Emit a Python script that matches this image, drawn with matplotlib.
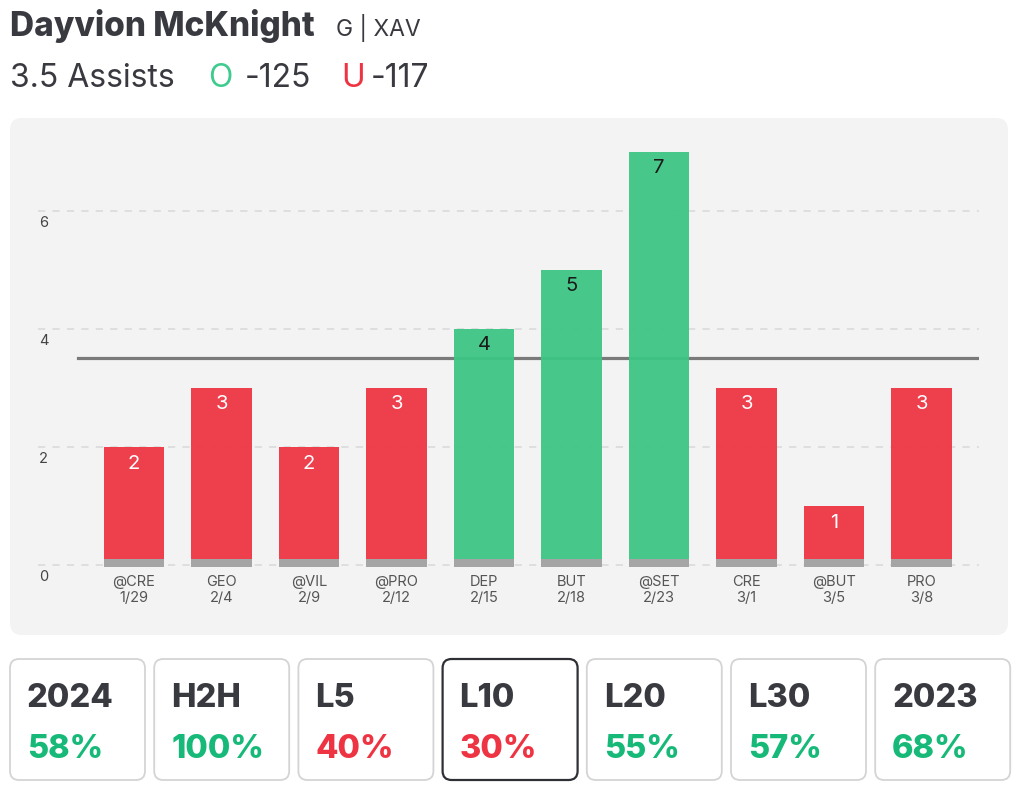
import matplotlib.pyplot as plt
from matplotlib.patches import FancyBboxPatch
import matplotlib.transforms as mtransforms

plt.rcParams['font.family'] = ['Inter', 'DejaVu Sans']

# data
opponents = ['@CRE', 'GEO', '@VIL', '@PRO', 'DEP', 'BUT', '@SET', 'CRE', '@BUT', 'PRO']
dates = ['1/29', '2/4', '2/9', '2/12', '2/15', '2/18', '2/23', '3/1', '3/5', '3/8']
assists = [2, 3, 2, 3, 4, 5, 7, 3, 1, 3]
line_value = 3.5
y_ticks = [0, 2, 4, 6]

stat_labels = ['2024', 'H2H', 'L5', 'L10', 'L20', 'L30', '2023']
stat_values = [58, 100, 40, 30, 55, 57, 68]

GREEN = '#3cc684'
RED = '#ee3442'
GREEN_TXT = '#17b978'
DARK = '#393a40'

fig = plt.figure(figsize=(10.24, 8.02), dpi=100)

# background axes in pixel coordinates
bg = fig.add_axes([0, 0, 1, 1])
bg.set_xlim(0, 1024)
bg.set_ylim(802, 0)
bg.axis('off')

# header
bg.text(10, 36, 'Dayvion McKnight', fontsize=24, fontweight='heavy', color=DARK, va='baseline')
bg.text(336, 36, 'G | XAV', fontsize=16.5, color=DARK, va='baseline')
bg.text(10, 87, '3.5 Assists', fontsize=23, color=DARK, va='baseline')
bg.text(208, 87, 'O', fontsize=23, color='#3dcb8e', va='baseline')
bg.text(245, 87, '-125', fontsize=23, color=DARK, va='baseline')
bg.text(341, 87, 'U', fontsize=23, color=RED, va='baseline')
bg.text(371, 87, '-117', fontsize=23, color=DARK, va='baseline')

# chart panel
bg.add_patch(FancyBboxPatch((10, 118), 998, 517, boxstyle='round,pad=0,rounding_size=12',
                            facecolor='#f3f3f3', edgecolor='none'))

# stat boxes
for i, (lab, val) in enumerate(zip(stat_labels, stat_values)):
    x0 = 10 + i * 144.2
    sel = lab == 'L10'
    bg.add_patch(FancyBboxPatch((x0, 659), 135, 121, boxstyle='round,pad=0,rounding_size=9',
                                facecolor='white', edgecolor='#2f3035' if sel else '#d4d4d4',
                                linewidth=1.6 if sel else 1.3))
    bg.text(x0 + 17, 707, lab, fontsize=23.5, fontweight='heavy', color=DARK, va='baseline')
    bg.text(x0 + 17, 758, f'{val}%', fontsize=23.5, fontweight='heavy',
            color=GREEN_TXT if val > 50 else RED, va='baseline')

# bar chart
ax = fig.add_axes([38 / 1024, 1 - 630 / 802, 941 / 1024, 500 / 802])
ax.patch.set_alpha(0)
xs = list(range(len(assists)))
ax.set_xlim(-1.097, 9.657)
ax.set_ylim(-1.1, 7.37)
for s in ax.spines.values():
    s.set_visible(False)
ax.set_xticks([])
ax.set_yticks([])

for t in y_ticks:
    ax.axhline(t, color='#dcdcdc', linewidth=1.3, linestyle=(0, (4, 4)), zorder=1)
    ax.text(0.001, t - 0.2, str(t), transform=mtransforms.blended_transform_factory(ax.transAxes, ax.transData),
            fontsize=10.5, color='#444444', ha='left', va='center')

ax.axhline(line_value, xmin=0.043, xmax=1, color='#7a7a7a', linewidth=2.3, zorder=2)

colors = [GREEN if a > line_value else RED for a in assists]
ax.bar(xs, assists, width=0.686, color=colors, alpha=0.94, zorder=3)
ax.bar(xs, [0.135] * len(xs), bottom=-0.035, width=0.686, color='#a5a5a5', zorder=4)

for x, a in zip(xs, assists):
    ax.text(x, a - 0.28, str(a), ha='center', va='center', fontsize=14.5,
            color='#1a1a1a' if a > line_value else 'white', zorder=5)

for x, opp, d in zip(xs, opponents, dates):
    ax.text(x, -0.29, opp, ha='center', va='center', fontsize=10.5, color='#555555')
    ax.text(x, -0.56, d, ha='center', va='center', fontsize=10.5, color='#555555')

fig.savefig('out.png', dpi=100)
